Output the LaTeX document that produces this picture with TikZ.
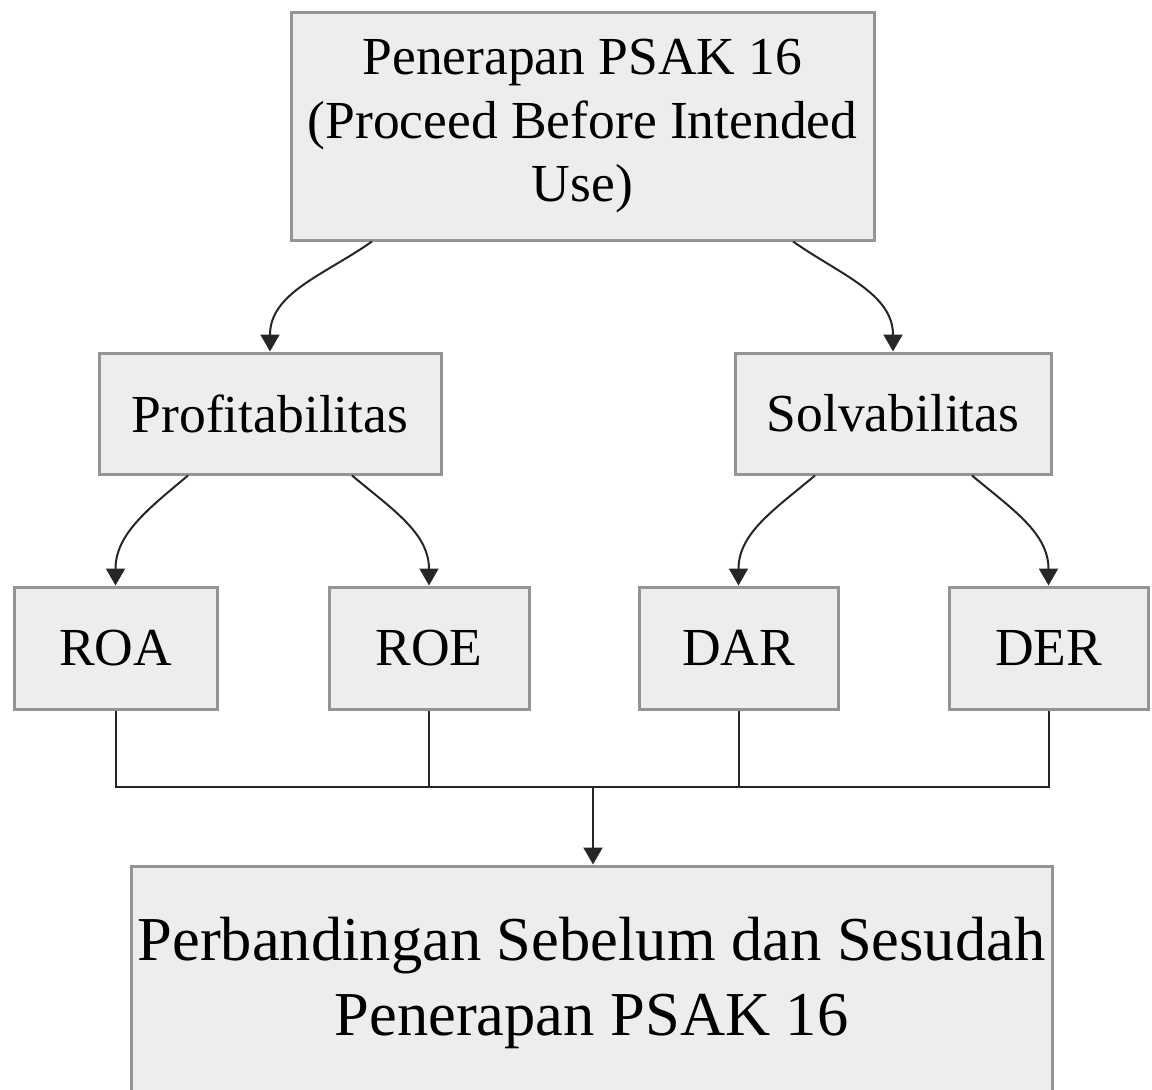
\documentclass[tikz,border=0pt]{standalone}
\usepackage{fontspec}
\setmainfont{Liberation Serif}
\usetikzlibrary{arrows.meta}

\tikzset{
  box/.style={draw=black!42, line width=3pt, fill=black!7, inner sep=0pt, align=center,
    font=\fontsize{53.5}{63.5}\selectfont},
  link/.style={draw=black!85, line width=2pt},
  arrowline/.style={link, -{Triangle[width=19pt,length=17pt]}}
}

\begin{document}
\begin{tikzpicture}[x=1pt,y=1pt,yscale=-1,xscale=1]
\useasboundingbox (0,0) rectangle (1152,1090);

%Shape: Rectangle [id:top]
\node[box, minimum width=583, minimum height=228] (psak) at (582.5,126) {Penerapan PSAK 16\\(Proceed Before Intended\\Use)};
%Shape: Rectangle [id:middle]
\node[box, minimum width=342, minimum height=121] (profit) at (270,413.5) {Profitabilitas};
\node[box, minimum width=316, minimum height=121] (solv) at (893,413.5) {Solvabilitas};
%Shape: Rectangle [id:ratios]
\node[box, minimum width=203, minimum height=122] (roa) at (115.5,648) {ROA};
\node[box, minimum width=200, minimum height=122] (roe) at (429,648) {ROE};
\node[box, minimum width=199, minimum height=122] (dar) at (738.5,648) {DAR};
\node[box, minimum width=199, minimum height=122] (der) at (1048.5,648) {DER};
%Shape: Rectangle [id:bottom]
\node[box, minimum width=921, minimum height=234, font=\fontsize{62.5}{75}\selectfont] (result) at (591.5,983) {Perbandingan Sebelum dan Sesudah\\Penerapan PSAK 16};

%Curve Lines
\draw[arrowline] ([xshift=-210.5]psak.south) to[out=145,in=-90] (profit.north);
\draw[arrowline] ([xshift=210.5]psak.south) to[out=35,in=-90] (solv.north);
\draw[arrowline] ([xshift=-82]profit.south) to[out=140,in=-90] (roa.north);
\draw[arrowline] ([xshift=82]profit.south) to[out=40,in=-90] (roe.north);
\draw[arrowline] ([xshift=-78]solv.south) to[out=140,in=-90] (dar.north);
\draw[arrowline] ([xshift=79]solv.south) to[out=40,in=-90] (der.north);

%Straight Lines
\coordinate (join) at (593,787);
\draw[link] (roa.south) |- (join);
\draw[link] (der.south) |- (join);
\draw[link] (roe.south) -- (roe.south |- join);
\draw[link] (dar.south) -- (dar.south |- join);
\draw[arrowline] (join) -- (join |- result.north);

\end{tikzpicture}
\end{document}
